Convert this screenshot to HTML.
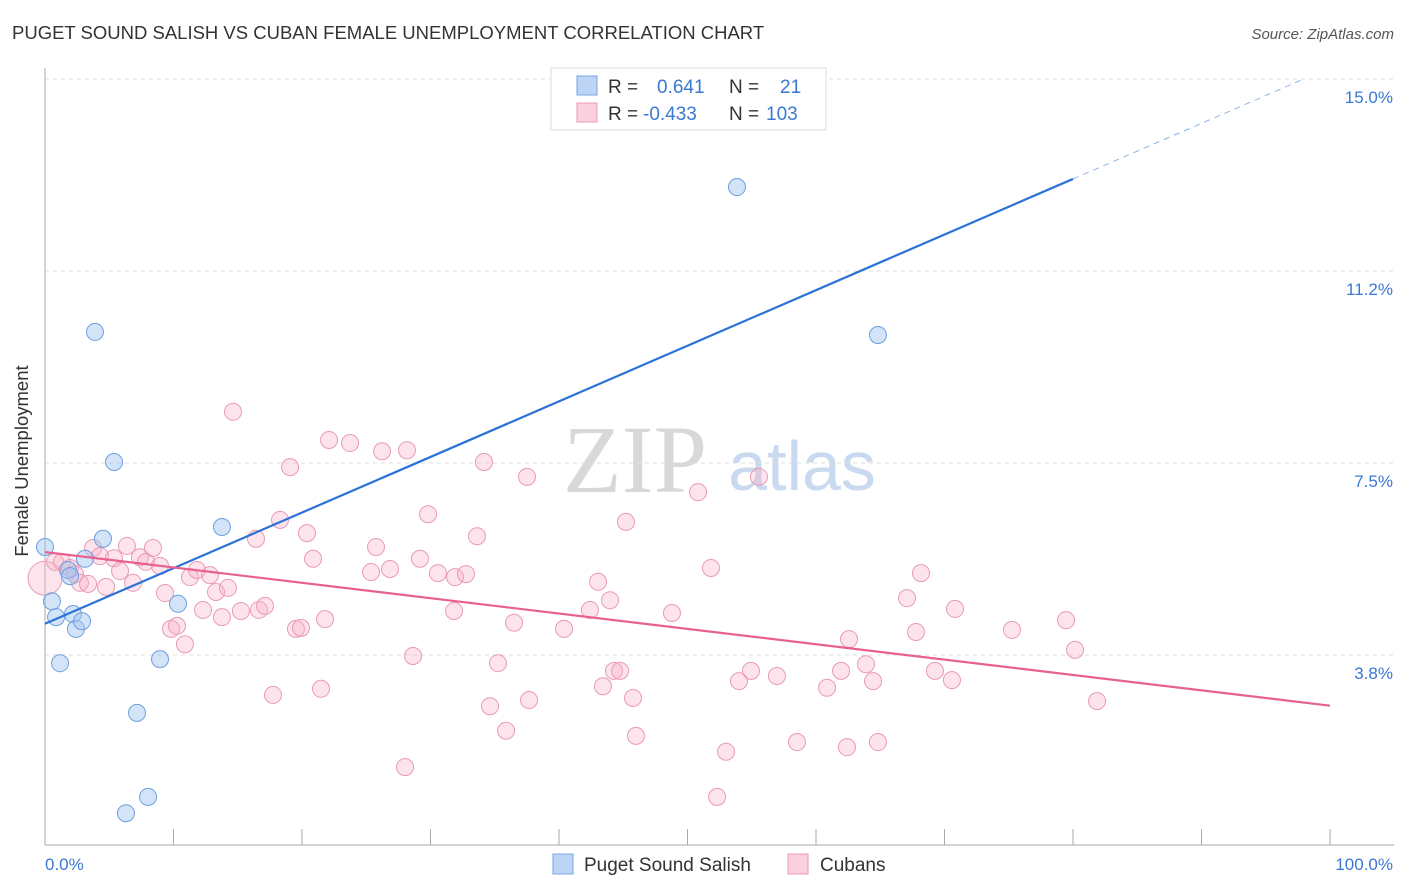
<!DOCTYPE html>
<html><head><meta charset="utf-8"><style>
body{margin:0;background:#fff;font-family:"Liberation Sans",sans-serif;}
#c{position:relative;width:1406px;height:892px;overflow:hidden}
</style></head><body>
<div id="c">
<svg id="s" width="1406" height="892" xmlns="http://www.w3.org/2000/svg">
<text x="12" y="39" font-size="18.5" fill="#333">PUGET SOUND SALISH VS CUBAN FEMALE UNEMPLOYMENT CORRELATION CHART</text>
<text x="1394" y="39" font-size="15" font-style="italic" fill="#555" text-anchor="end">Source: ZipAtlas.com</text>
<text x="635" y="492" font-size="96" font-family="Liberation Serif,serif" fill="#d8d8d8" text-anchor="middle">ZIP</text>
<text x="802" y="490" font-size="70" fill="#c9daf0" text-anchor="middle">atlas</text>
<g id="grid"></g>
<line x1="45" y1="68" x2="45" y2="845" stroke="#aaa"/>
<line x1="45" y1="845" x2="1394" y2="845" stroke="#aaa"/>
<g id="xt"></g>
<text x="22" y="455" font-size="18.5" fill="#333" text-anchor="middle" transform="rotate(-90 28 455)">Female Unemployment</text>
<text x="45" y="870" font-size="17" fill="#3a78d4">0.0%</text>
<text x="1393" y="870" font-size="17" fill="#3a78d4" text-anchor="end">100.0%</text>
<g id="pts"></g>
<g id="lines"></g>
<g>
<rect x="551" y="68" width="275" height="62" fill="#fff" stroke="#ddd"/>
<rect x="577" y="76" width="20" height="19" fill="#bcd4f5" stroke="#7aa6e0"/>
<rect x="577" y="103" width="20" height="19" fill="#fbcfdc" stroke="#eb9bb5"/>
<text x="608" y="93" font-size="19" fill="#333">R = <tspan fill="#3a78d4" x="657">0.641</tspan><tspan fill="#333" x="729">N =</tspan><tspan fill="#3a78d4" x="780">21</tspan></text>
<text x="608" y="120" font-size="19" fill="#333">R = <tspan fill="#3a78d4" x="643">-0.433</tspan><tspan fill="#333" x="729">N =</tspan><tspan fill="#3a78d4" x="766">103</tspan></text>
</g>
<rect x="553" y="854" width="20" height="20" fill="#bcd4f5" stroke="#7aa6e0"/>
<text x="584" y="871" font-size="19" fill="#333">Puget Sound Salish</text>
<rect x="788" y="854" width="20" height="20" fill="#fbcfdc" stroke="#eb9bb5"/>
<text x="820" y="871" font-size="19" fill="#333">Cubans</text>
</svg>
</div>
<script>
const yTicks=[15.0,11.25,7.5,3.75];
const yTickLabels=["15.0%","11.2%","7.5%","3.8%"];
const xTicks=[0,10,20,30,40,50,60,70,80,90,100];
const blueX=[0,0.54,0.86,1.17,1.79,1.95,2.18,2.41,2.88,3.11,3.89,4.51,5.37,7.16,6.30,8.02,8.95,10.35,13.77,53.85,64.82];
const blueY=[5.86,4.80,4.49,3.59,5.41,5.29,4.55,4.26,4.41,5.63,10.06,6.02,7.52,2.62,0.66,0.98,3.67,4.75,6.25,12.89,10.0];
const pinkX=[0,0.78,1.32,1.95,2.33,2.72,3.35,3.74,4.28,4.75,5.37,5.84,6.38,6.85,7.39,7.86,8.40,8.95,9.34,9.81,10.27,10.89,11.28,11.83,12.30,12.84,13.31,13.77,14.24,14.63,15.25,16.42,16.65,17.12,17.74,18.29,19.07,19.53,19.92,20.39,20.86,21.48,21.79,22.10,23.74,25.37,25.76,26.23,26.85,28.17,28.02,28.64,29.18,29.81,30.58,31.91,31.83,32.76,33.62,34.16,34.63,35.25,35.88,36.50,37.51,37.67,40.39,42.41,43.04,43.42,43.97,44.28,44.75,45.21,45.76,45.99,48.79,50.82,51.83,52.30,53.00,54.01,54.94,55.56,56.96,58.52,60.86,61.95,62.41,62.57,63.89,64.44,64.82,67.08,67.78,68.17,69.26,70.58,70.82,75.25,79.46,80.16,81.87];
const pinkY=[5.25,5.57,5.57,5.45,5.33,5.16,5.14,5.84,5.68,5.08,5.64,5.39,5.88,5.16,5.66,5.57,5.84,5.49,4.96,4.26,4.32,3.96,5.27,5.41,4.63,5.31,4.98,4.49,5.06,8.50,4.61,6.02,4.63,4.71,2.97,6.39,7.42,4.26,4.28,6.13,5.63,3.09,4.45,7.95,7.89,5.37,5.86,7.73,5.43,7.75,1.56,3.73,5.63,6.50,5.35,5.27,4.61,5.33,6.07,7.52,2.75,3.59,2.27,4.38,7.23,2.87,4.26,4.63,5.18,3.14,4.82,3.44,3.44,6.35,2.91,2.17,4.57,6.93,5.45,0.98,1.86,3.24,3.44,7.23,3.34,2.05,3.11,3.44,1.95,4.06,3.57,3.24,2.05,4.86,4.20,5.35,3.44,3.26,4.65,4.24,4.43,3.85,2.85];
const blueTrend=[4.36,0.1086];   // intercept, slope
const pinkTrend=[5.76,-0.030];
const NS="http://www.w3.org/2000/svg";
const xs=v=>45+v*12.85;
const ys=v=>847-v*51.2;
function mk(t,a,p){const e=document.createElementNS(NS,t);for(const k in a)e.setAttribute(k,a[k]);p.appendChild(e);return e;}
const grid=document.getElementById('grid');
yTicks.forEach((v,i)=>{
 const l=mk('line',{x1:45,x2:1394,y1:ys(v),y2:ys(v),stroke:'#ddd','stroke-dasharray':'4,4'},grid);
 
 
 const t=mk('text',{x:1393,y:ys(v)+24,'font-size':17,fill:'#3a78d4','text-anchor':'end'},grid);
 t.textContent=yTickLabels[i];
 
 
});
const xt=document.getElementById('xt');
xTicks.forEach(v=>{
 const l=mk('line',{x1:xs(v),x2:xs(v),y1:829,y2:845,stroke:'#aaa'},xt);
 
 
});
const pts=document.getElementById('pts');
pinkX.forEach((x,i)=>{
 const c=mk('circle',{cx:xs(x),cy:ys(pinkY[i]),r:(i===0?17:8.5),fill:'rgba(248,176,198,0.35)',stroke:'#ea9ab4','stroke-width':1},pts);
 
 
});
blueX.forEach((x,i)=>{
 const c=mk('circle',{cx:xs(x),cy:ys(blueY[i]),r:8.5,fill:'rgba(160,196,240,0.45)',stroke:'#6d9fe0','stroke-width':1},pts);
 
 
});
const lines=document.getElementById('lines');
const bEnd=80;
const bDash=(15-blueTrend[0])/blueTrend[1];
let l1=mk('line',{x1:xs(0),y1:ys(blueTrend[0]),x2:xs(bEnd),y2:ys(blueTrend[0]+blueTrend[1]*bEnd),stroke:'#2a72d8','stroke-width':2.2},lines);


let l2=mk('line',{x1:xs(bEnd),y1:ys(blueTrend[0]+blueTrend[1]*bEnd),x2:xs(bDash),y2:ys(15),stroke:'#8fb3e6','stroke-width':1,'stroke-dasharray':'6,5'},lines);


let l3=mk('line',{x1:xs(0),y1:ys(pinkTrend[0]),x2:xs(100),y2:ys(pinkTrend[0]+pinkTrend[1]*100),stroke:'#e8608f','stroke-width':2.2},lines);


</script>
</body></html>
